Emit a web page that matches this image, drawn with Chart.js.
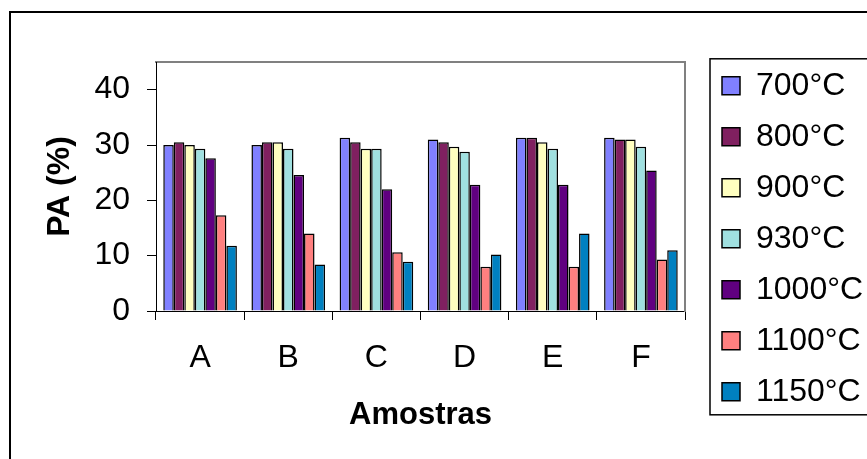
<!DOCTYPE html>
<html><head><meta charset="utf-8">
<script src="https://cdn.jsdelivr.net/npm/chart.js@4"></script>
<style>html,body{margin:0;padding:0;background:#fff;overflow:hidden}</style>
</head><body>
<canvas id="c" width="867" height="459"></canvas>
<script>
const categories = ['A', 'B', 'C', 'D', 'E', 'F'];
const seriesLabels = ['700°C', '800°C', '900°C', '930°C', '1000°C', '1100°C', '1150°C'];
const v700  = [30.0, 30.0, 31.3, 31.0, 31.3, 31.3];
const v800  = [30.5, 30.5, 30.5, 30.5, 31.3, 31.0];
const v900  = [30.0, 30.5, 29.3, 29.7, 30.5, 31.0];
const v930  = [29.3, 29.3, 29.3, 28.8, 29.3, 29.7];
const v1000 = [27.6, 24.6, 22.0, 22.8, 22.8, 25.4];
const v1100 = [17.3, 14.0, 10.6, 8.0, 8.0, 9.3];
const v1150 = [11.8, 8.4, 8.9, 10.2, 14.0, 11.0];
const yTicks = [0, 10, 20, 30, 40];
const yMax = 45;

const seriesValues = [v700, v800, v900, v930, v1000, v1100, v1150];
const seriesColors = ['#8080FF', '#802060', '#FFFFC0', '#A0E0E0', '#600080', '#FF8080', '#0080C0'];
const FONT = 'Liberation Sans, Arial, sans-serif';

const framePlugin = {
  id: 'frame',
  beforeDraw(chart) {
    const ctx = chart.ctx;
    ctx.save();
    ctx.fillStyle = '#fff';
    ctx.fillRect(0, 0, chart.width, chart.height);
    ctx.strokeStyle = '#000';
    ctx.lineWidth = 2;
    ctx.beginPath();
    ctx.moveTo(10, chart.height + 5);
    ctx.lineTo(10, 12);
    ctx.lineTo(chart.width + 5, 12);
    ctx.stroke();
    ctx.restore();
  },
  afterDraw(chart) {
    const lg = chart.legend;
    if (!lg || !lg.legendHitBoxes || !lg.legendHitBoxes.length) return;
    const hb = lg.legendHitBoxes;
    const first = hb[0], last = hb[hb.length - 1];
    const top = first.top + first.height / 2 - 27;
    const bottom = last.top + last.height / 2 + 23;
    const left = first.left - 12;
    const ctx = chart.ctx;
    ctx.save();
    ctx.strokeStyle = '#000';
    ctx.lineWidth = 1.5;
    ctx.strokeRect(left, top, chart.width + 20 - left, bottom - top);
    ctx.restore();
  }
};

new Chart(document.getElementById('c'), {
  type: 'bar',
  data: {
    labels: categories,
    datasets: seriesLabels.map((lab, i) => ({
      label: lab,
      data: seriesValues[i],
      backgroundColor: seriesColors[i],
      borderColor: '#000',
      borderWidth: 1.5,
      categoryPercentage: 0.835,
      barPercentage: 1.0
    }))
  },
  options: {
    responsive: false,
    animation: false,
    devicePixelRatio: 1,
    layout: { padding: { left: 0, top: 50.8, right: 0, bottom: 19 } },
    plugins: {
      tooltip: { enabled: false },
      legend: {
        position: 'right',
        align: 'start',
        maxWidth: 164,
        labels: {
          color: '#000',
          font: { family: FONT, size: 32 },
          boxWidth: 18,
          boxHeight: 18,
          padding: 19
        }
      }
    },
    scales: {
      x: {
        position: 'bottom',
        grid: { display: true, drawOnChartArea: false, drawTicks: true, tickLength: 9, color: '#000', offset: true },
        border: { display: true, color: '#000', width: 1 },
        ticks: { color: '#000', font: { family: FONT, size: 32 }, padding: 19, maxRotation: 0 },
        title: { display: true, text: 'Amostras', color: '#000', font: { family: FONT, size: 31, weight: 'bold' }, padding: { top: 0, bottom: 5.8 } },
        afterFit(s) { s.height = 129; }
      },
      x2: {
        type: 'category',
        position: 'top',
        labels: categories,
        grid: { display: false },
        border: { display: true, color: '#808080', width: 2 },
        ticks: { display: false },
        afterFit(s) { s.height = 11.2; }
      },
      y: {
        position: 'left',
        min: 0,
        max: yMax,
        grid: { display: true, drawOnChartArea: false, drawTicks: true, tickLength: 9, color: '#000' },
        border: { display: true, color: '#000', width: 1 },
        ticks: { color: '#000', font: { family: FONT, size: 32 }, padding: 17, includeBounds: false },
        afterBuildTicks(s) { s.ticks = yTicks.map(v => ({ value: v })); },
        title: { display: true, text: 'PA (%)', color: '#000', font: { family: FONT, size: 32, weight: 'bold' }, padding: { top: 40.8, bottom: 0 } },
        afterFit(s) { s.width = 156; }
      },
      y2: {
        type: 'linear',
        position: 'right',
        min: 0,
        max: yMax,
        grid: { display: false },
        border: { display: true, color: '#808080', width: 2 },
        ticks: { display: false },
        afterFit(s) { s.width = 18; }
      }
    }
  },
  plugins: [framePlugin]
});
</script>
</body></html>
